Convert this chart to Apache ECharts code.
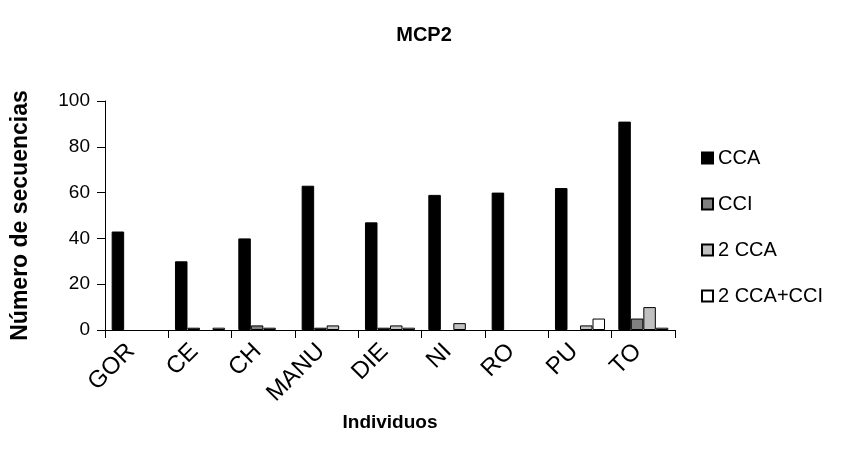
<!DOCTYPE html>
<html>
<head>
<meta charset="utf-8">
<script src="https://cdn.jsdelivr.net/npm/echarts@6/dist/echarts.min.js"></script>
<style>
  html, body { margin: 0; padding: 0; background: #fff; }
  #chart { width: 848px; height: 457px; }
</style>
</head>
<body>
<div id="chart"></div>
<script>
const FONT = 'Liberation Sans, Arial, sans-serif';

const individuos = ['GOR', 'CE', 'CH', 'MANU', 'DIE', 'NI', 'RO', 'PU', 'TO'];
const cca = [43, 30, 40, 63, 47, 59, 60, 62, 91];
const cci = [0, 1, 2, 1, 1, 0, 0, 0, 5];
const dosCca = [0, 0, 1, 2, 2, 3, 0, 2, 10];
const dosCcaCci = [0, 1, 0, 0, 1, 0, 0, 5, 1];
const yTicks = [0, 20, 40, 60, 80, 100];

function barSeries(name, values, color) {
  return {
    name: name,
    type: 'bar',
    // zero bars get no outline, like the original
    data: values.map(function (v) {
      return v === 0 ? { value: v, itemStyle: { borderWidth: 0 } } : v;
    }),
    barGap: '0%',
    barCategoryGap: '21%',
    itemStyle: { color: color, borderColor: '#000', borderWidth: 1 }
  };
}

var chartDom = document.getElementById('chart');
var chart = echarts.init(chartDom);
var option = {
  animation: false,
  textStyle: { fontFamily: FONT },
  title: {
    text: 'MCP2',
    left: 'center',
    top: 20,
    textStyle: { fontFamily: FONT, fontSize: 20, fontWeight: 'bold', color: '#000' }
  },
  legend: {
    orient: 'vertical',
    left: 696,
    top: 143,
    itemWidth: 11,
    itemHeight: 11,
    itemGap: 26,
    icon: 'rect',
    textStyle: { fontFamily: FONT, fontSize: 20, color: '#000' }
  },
  grid: { left: 105, right: 173, top: 101, bottom: 127 },
  xAxis: {
    type: 'category',
    data: individuos,
    name: 'Individuos',
    nameLocation: 'middle',
    nameGap: 78,
    nameTextStyle: { fontFamily: FONT, fontSize: 19, fontWeight: 'bold', color: '#000' },
    axisLine: { lineStyle: { color: '#000', width: 1 } },
    axisTick: { show: true, length: 8, lineStyle: { color: '#000' } },
    // labels sit a little further down-left along the slant
    axisLabel: { rotate: 45, fontFamily: FONT, fontSize: 24, color: '#000', margin: 12, padding: [0, 8, 0, 0] }
  },
  yAxis: {
    type: 'value',
    min: yTicks[0],
    max: yTicks[yTicks.length - 1],
    interval: 20,
    name: 'Número de secuencias',
    nameLocation: 'middle',
    nameGap: 73,
    nameTextStyle: { fontFamily: FONT, fontSize: 23, fontWeight: 'bold', color: '#000' },
    axisLine: { show: true, lineStyle: { color: '#000', width: 1 } },
    axisTick: { show: true, length: 8, lineStyle: { color: '#000' } },
    splitLine: { show: false },
    axisLabel: { fontFamily: FONT, fontSize: 19, color: '#000', margin: 15 }
  },
  series: [
    barSeries('CCA', cca, '#000000'),
    barSeries('CCI', cci, '#808080'),
    barSeries('2 CCA', dosCca, '#c0c0c0'),
    barSeries('2 CCA+CCI', dosCcaCci, '#ffffff')
  ]
};
chart.setOption(option);
</script>
</body>
</html>
